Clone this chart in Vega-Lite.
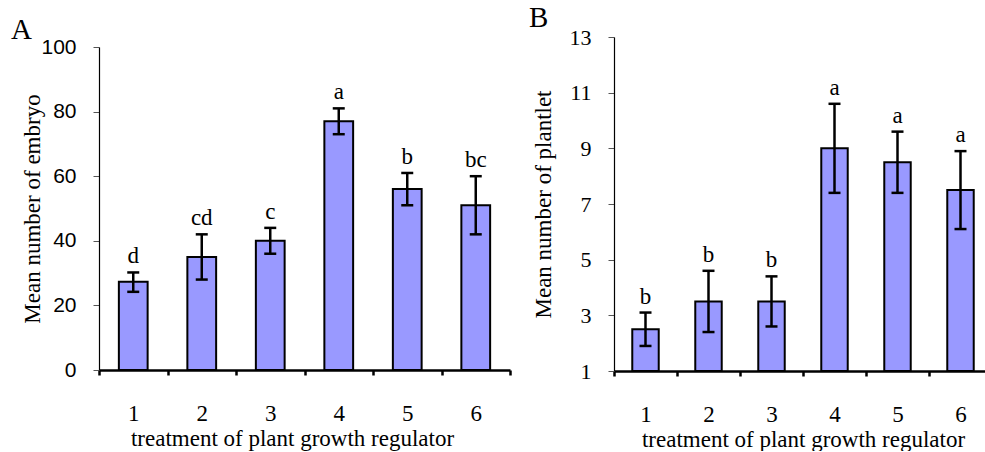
{
  "$schema": "https://vega.github.io/schema/vega-lite/v6.json",
  "background": "white",
  "padding": {"left": 11, "top": 4, "right": 0, "bottom": 0},
  "config": {
    "view": {"stroke": null},
    "font": "Liberation Serif",
    "axis": {"grid": false, "domainColor": "black", "tickColor": "black", "labelColor": "black", "titleColor": "black", "titleFontWeight": "normal", "titleFont": "Liberation Serif"},
    "title": {"font": "Liberation Serif", "fontWeight": "normal", "fontSize": 29, "color": "black"}
  },
  "datasets": {
    "A": [
      {"treatment": "1", "mean": 27.3, "lo": 24.2, "hi": 30.2, "letter": "d"},
      {"treatment": "2", "mean": 35, "lo": 28, "hi": 42, "letter": "cd"},
      {"treatment": "3", "mean": 40, "lo": 36, "hi": 44, "letter": "c"},
      {"treatment": "4", "mean": 77, "lo": 73, "hi": 81, "letter": "a"},
      {"treatment": "5", "mean": 56, "lo": 51, "hi": 61, "letter": "b"},
      {"treatment": "6", "mean": 51, "lo": 42, "hi": 60, "letter": "bc"}
    ],
    "B": [
      {"treatment": "1", "mean": 2.5, "lo": 1.9, "hi": 3.1, "letter": "b"},
      {"treatment": "2", "mean": 3.5, "lo": 2.4, "hi": 4.6, "letter": "b"},
      {"treatment": "3", "mean": 3.5, "lo": 2.6, "hi": 4.4, "letter": "b"},
      {"treatment": "4", "mean": 9.0, "lo": 7.4, "hi": 10.6, "letter": "a"},
      {"treatment": "5", "mean": 8.5, "lo": 7.4, "hi": 9.6, "letter": "a"},
      {"treatment": "6", "mean": 7.5, "lo": 6.1, "hi": 8.9, "letter": "a"}
    ]
  },
  "spacing": 17,
  "hconcat": [
    {
      "data": {"name": "A"},
      "width": 411,
      "height": 333,
      "title": {"text": "A", "anchor": "start", "frame": "group", "dx": -88, "dy": 9, "offset": 0},
      "encoding": {
        "x": {
          "field": "treatment", "type": "ordinal",
          "scale": {"paddingInner": 0, "paddingOuter": 0},
          "axis": {"title": "treatment of plant growth regulator", "labelAngle": 0, "tickBand": "extent", "tickSize": 5, "tickWidth": 2.5, "domainWidth": 2.5, "labelFontSize": 23, "labelFont": "Liberation Serif", "labelPadding": 27, "titleFontSize": 23, "titlePadding": 2, "titleX": 193}
        }
      },
      "layer": [
        {
          "mark": {"type": "bar", "width": {"band": 0.42}, "fill": "#9999FF", "stroke": "black", "strokeWidth": 2},
          "encoding": {
            "y": {
              "field": "mean", "type": "quantitative", "title": "Mean number of embryo",
              "scale": {"domain": [0, 100], "nice": false, "range": [333, 10]},
              "axis": {"values": [0, 20, 40, 60, 80, 100], "labelFont": "Liberation Sans", "labelFontSize": 21, "tickSize": 6, "labelPadding": 17, "domainWidth": 1.2, "tickWidth": 1, "tickColor": "#555555", "titleFontSize": 23, "titlePadding": -4}
            }
          }
        },
        {
          "mark": {"type": "rule", "strokeWidth": 2.5, "color": "black"},
          "encoding": {"y": {"field": "lo", "type": "quantitative", "title": "Mean number of embryo"}, "y2": {"field": "hi"}}
        },
        {
          "mark": {"type": "tick", "size": 12, "thickness": 2.5, "color": "black", "opacity": 1},
          "encoding": {"y": {"field": "lo", "type": "quantitative", "title": "Mean number of embryo"}}
        },
        {
          "mark": {"type": "tick", "size": 12, "thickness": 2.5, "color": "black", "opacity": 1},
          "encoding": {"y": {"field": "hi", "type": "quantitative", "title": "Mean number of embryo"}}
        },
        {
          "mark": {"type": "text", "baseline": "alphabetic", "dy": -9, "fontSize": 23, "font": "Liberation Serif", "color": "black"},
          "encoding": {"y": {"field": "hi", "type": "quantitative", "title": "Mean number of embryo"}, "text": {"field": "letter"}}
        }
      ]
    },
    {
      "data": {"name": "B"},
      "width": 378,
      "height": 334,
      "title": {"text": "B", "anchor": "start", "frame": "group", "dx": -85, "dy": 7, "offset": 0},
      "encoding": {
        "x": {
          "field": "treatment", "type": "ordinal",
          "scale": {"paddingInner": 0, "paddingOuter": 0},
          "axis": {"title": "treatment of plant growth regulator", "labelAngle": 0, "tickBand": "extent", "tickSize": 5, "tickWidth": 2.5, "domainWidth": 2.5, "labelFontSize": 23, "labelFont": "Liberation Serif", "labelPadding": 27, "titleFontSize": 23, "titlePadding": 2}
        }
      },
      "layer": [
        {
          "mark": {"type": "bar", "width": {"band": 0.42}, "fill": "#9999FF", "stroke": "black", "strokeWidth": 2},
          "encoding": {
            "y": {
              "field": "mean", "type": "quantitative", "title": "Mean number of plantlet",
              "scale": {"domain": [1, 13], "nice": false, "zero": false},
              "axis": {"values": [1, 3, 5, 7, 9, 11, 13], "labelFont": "Liberation Serif", "labelFontSize": 22, "tickSize": 6, "labelPadding": 17, "domainWidth": 1.2, "tickWidth": 1, "tickColor": "#555555", "titleFontSize": 23, "titlePadding": 14}
            },
            "y2": {"datum": 1}
          }
        },
        {
          "mark": {"type": "rule", "strokeWidth": 2.5, "color": "black"},
          "encoding": {"y": {"field": "lo", "type": "quantitative", "title": "Mean number of plantlet"}, "y2": {"field": "hi"}}
        },
        {
          "mark": {"type": "tick", "size": 12, "thickness": 2.5, "color": "black", "opacity": 1},
          "encoding": {"y": {"field": "lo", "type": "quantitative", "title": "Mean number of plantlet"}}
        },
        {
          "mark": {"type": "tick", "size": 12, "thickness": 2.5, "color": "black", "opacity": 1},
          "encoding": {"y": {"field": "hi", "type": "quantitative", "title": "Mean number of plantlet"}}
        },
        {
          "mark": {"type": "text", "baseline": "alphabetic", "dy": -9, "fontSize": 23, "font": "Liberation Serif", "color": "black"},
          "encoding": {"y": {"field": "hi", "type": "quantitative", "title": "Mean number of plantlet"}, "text": {"field": "letter"}}
        }
      ]
    }
  ]
}
